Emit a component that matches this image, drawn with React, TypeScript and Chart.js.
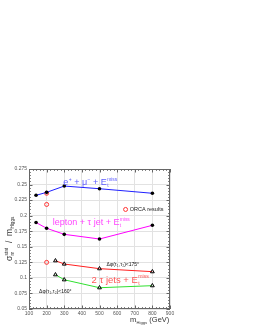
import React, { useEffect, useRef } from "react";
import { Chart, registerables } from "chart.js";
Chart.register(...registerables);

const massTicks = [100, 200, 300, 400, 500, 600, 700, 800, 900];
const yTickValues = [0.05, 0.075, 0.1, 0.125, 0.15, 0.175, 0.2, 0.225, 0.25, 0.275];
const yTickLabels = ["0.05", "0.075", "0.1", "0.125", "0.15", "0.175", "0.2", "0.225", "0.25", "0.275"];

const leptonMuMasses = [140, 200, 300, 500, 800];
const leptonMuValues = [0.2327, 0.2375, 0.2476, 0.2433, 0.236];
const leptonTauMasses = [140, 200, 300, 500, 800];
const leptonTauValues = [0.189, 0.1797, 0.17, 0.1625, 0.1845];
const tauTauMasses = [250, 300, 500, 800];
const tauTau175Values = [0.1276, 0.1223, 0.1148, 0.11];
const tauTau160Values = [0.1051, 0.097, 0.0842, 0.0875];
const orcaMasses = [200, 200, 200];
const orcaValues = [0.236, 0.218, 0.125];

type Part = { t: string; sub?: string; sup?: string };

function drawRich(ctx: CanvasRenderingContext2D, x: number, y: number, parts: Part[], size: number, color: string, family: string) {
  ctx.save();
  ctx.fillStyle = color;
  ctx.textBaseline = "alphabetic";
  ctx.textAlign = "left";
  let cx = x;
  for (const p of parts) {
    ctx.font = `${size}px ${family}`;
    ctx.fillText(p.t, cx, y);
    cx += ctx.measureText(p.t).width;
    let adv = 0;
    const small = size * 0.55;
    ctx.font = `${small}px ${family}`;
    if (p.sub) {
      ctx.fillText(p.sub, cx + 0.3, y + size * 0.22);
      adv = Math.max(adv, ctx.measureText(p.sub).width + 0.5);
    }
    if (p.sup) {
      ctx.fillText(p.sup, cx + 0.3, y - size * 0.45);
      adv = Math.max(adv, ctx.measureText(p.sup).width + 0.5);
    }
    cx += adv;
  }
  ctx.restore();
}

const FAMILY = "'Liberation Sans', Arial, sans-serif";

const decorPlugin = {
  id: "decor",
  afterDraw(chart: any) {
    const ctx: CanvasRenderingContext2D = chart.ctx;
    const { left, right, top, bottom } = chart.chartArea;
    const xs = chart.scales.x;
    const ys = chart.scales.y;
    ctx.save();
    ctx.strokeStyle = "#666";
    ctx.lineWidth = 1;
    ctx.strokeRect(left + 0.5, top + 0.5, right - left - 1, bottom - top - 1);
    ctx.beginPath();
    for (let m = 100; m <= 900; m += 20) {
      const px = Math.round(xs.getPixelForValue(m)) + 0.5;
      const len = m % 100 === 0 ? 3.5 : 1.8;
      ctx.moveTo(px, bottom);
      ctx.lineTo(px, bottom - len);
      ctx.moveTo(px, top);
      ctx.lineTo(px, top + len);
    }
    for (let i = 0; i <= 45; i++) {
      const v = 0.05 + i * 0.005;
      const py = Math.round(ys.getPixelForValue(v)) + 0.5;
      const len = i % 5 === 0 ? 3.5 : 1.8;
      ctx.moveTo(left, py);
      ctx.lineTo(left + len, py);
      ctx.moveTo(right, py);
      ctx.lineTo(right - len, py);
    }
    ctx.stroke();

    const X = (m: number) => xs.getPixelForValue(m);
    const Y = (v: number) => ys.getPixelForValue(v);

    drawRich(ctx, X(295), Y(0.2485), [{ t: "e", sup: "+" }, { t: " + μ", sup: "−" }, { t: " + E", sub: "t", sup: "miss" }], 9, "#5b5bff", FAMILY);
    drawRich(ctx, X(235), Y(0.185), [{ t: "lepton + τ jet + E", sub: "t", sup: "miss" }], 9, "#ff44ff", FAMILY);
    drawRich(ctx, X(455), Y(0.0925), [{ t: "2 τ jets + E", sub: "t", sup: "miss" }], 9.5, "#ff5555", FAMILY);
    drawRich(ctx, X(540), Y(0.119), [{ t: "Δφ(τ", sub: "1" }, { t: ",τ", sub: "2" }, { t: ")<175°" }], 5, "#111", FAMILY);
    drawRich(ctx, X(157), Y(0.0757), [{ t: "Δφ(τ", sub: "1" }, { t: ",τ", sub: "2" }, { t: ")<160°" }], 5, "#111", FAMILY);

    ctx.strokeStyle = "#ff3333";
    ctx.lineWidth = 1;
    ctx.beginPath();
    ctx.arc(X(648), Y(0.21), 2, 0, Math.PI * 2);
    ctx.stroke();
    drawRich(ctx, X(672), Y(0.21) + 2, [{ t: "ORCA results" }], 5.5, "#222", FAMILY);

    drawRich(ctx, 130, 322, [{ t: "m", sub: "Higgs" }, { t: " (GeV)" }], 7.5, "#333", FAMILY);

    ctx.save();
    ctx.translate(12, 261);
    ctx.rotate(-Math.PI / 2);
    drawRich(ctx, 0, 0, [{ t: "σ", sub: "m", sup: "stat" }, { t: "  /  m", sub: "Higgs" }], 8.5, "#333", FAMILY);
    ctx.restore();

    ctx.restore();
  },
};

export default function App() {
  const ref = useRef<HTMLCanvasElement | null>(null);
  useEffect(() => {
    document.body.style.margin = "0";
    const toPts = (xs: number[], ys: number[]) => xs.map((x, i) => ({ x, y: ys[i] }));
    const chart = new Chart(ref.current as HTMLCanvasElement, {
      type: "scatter",
      data: {
        datasets: [
          {
            data: toPts(leptonMuMasses, leptonMuValues),
            showLine: true,
            borderColor: "#2020ff",
            borderWidth: 1,
            pointRadius: 1.8,
            pointBackgroundColor: "#000",
            pointBorderColor: "#000",
            pointBorderWidth: 0,
          },
          {
            data: toPts(leptonTauMasses, leptonTauValues),
            showLine: true,
            borderColor: "#ff00ff",
            borderWidth: 1,
            pointRadius: 1.8,
            pointBackgroundColor: "#000",
            pointBorderColor: "#000",
            pointBorderWidth: 0,
          },
          {
            data: toPts(tauTauMasses, tauTau175Values),
            showLine: true,
            borderColor: "#ff2020",
            borderWidth: 1,
            pointStyle: "triangle",
            pointRadius: 2.2,
            pointBackgroundColor: "rgba(255,255,255,0.4)",
            pointBorderColor: "#000",
            pointBorderWidth: 1,
          },
          {
            data: toPts(tauTauMasses, tauTau160Values),
            showLine: true,
            borderColor: "#30e030",
            borderWidth: 1,
            pointStyle: "triangle",
            pointRadius: 2.2,
            pointBackgroundColor: "rgba(255,255,255,0.4)",
            pointBorderColor: "#000",
            pointBorderWidth: 1,
          },
          {
            data: toPts(orcaMasses, orcaValues),
            showLine: false,
            pointRadius: 2,
            pointBackgroundColor: "rgba(0,0,0,0)",
            pointBorderColor: "#ff3333",
            pointBorderWidth: 1,
          },
        ],
      },
      options: {
        animation: false,
        responsive: true,
        maintainAspectRatio: false,
        layout: { padding: { left: 0, top: 169, right: 83, bottom: 0 } },
        plugins: { legend: { display: false }, tooltip: { enabled: false } },
        scales: {
          x: {
            type: "linear",
            min: 100,
            max: 900,
            afterFit: (s: any) => { s.height = 18; },
            afterBuildTicks: (s: any) => { s.ticks = massTicks.map((v) => ({ value: v })); },
            grid: { color: "#e2e2e2", drawTicks: false },
            border: { display: false },
            ticks: {
              font: { size: 5, family: FAMILY },
              color: "#555",
              padding: 2,
              autoSkip: false,
              maxRotation: 0,
              callback: (v: any) => String(v),
            },
          },
          y: {
            type: "linear",
            min: 0.05,
            max: 0.275,
            afterFit: (s: any) => { s.width = 29; },
            afterBuildTicks: (s: any) => { s.ticks = yTickValues.map((v) => ({ value: v })); },
            grid: { color: "#e2e2e2", drawTicks: false },
            border: { display: false },
            ticks: {
              font: { size: 5, family: FAMILY },
              color: "#555",
              padding: 2,
              autoSkip: false,
              callback: (v: any) => {
                const i = yTickValues.findIndex((t) => Math.abs(t - v) < 1e-6);
                return i >= 0 ? yTickLabels[i] : "";
              },
            },
          },
        },
      },
      plugins: [decorPlugin],
    } as any);
    return () => chart.destroy();
  }, []);
  return (
    <div style={{ position: "absolute", left: 0, top: 0, width: 253, height: 327 }}>
      <canvas ref={ref} />
    </div>
  );
}
